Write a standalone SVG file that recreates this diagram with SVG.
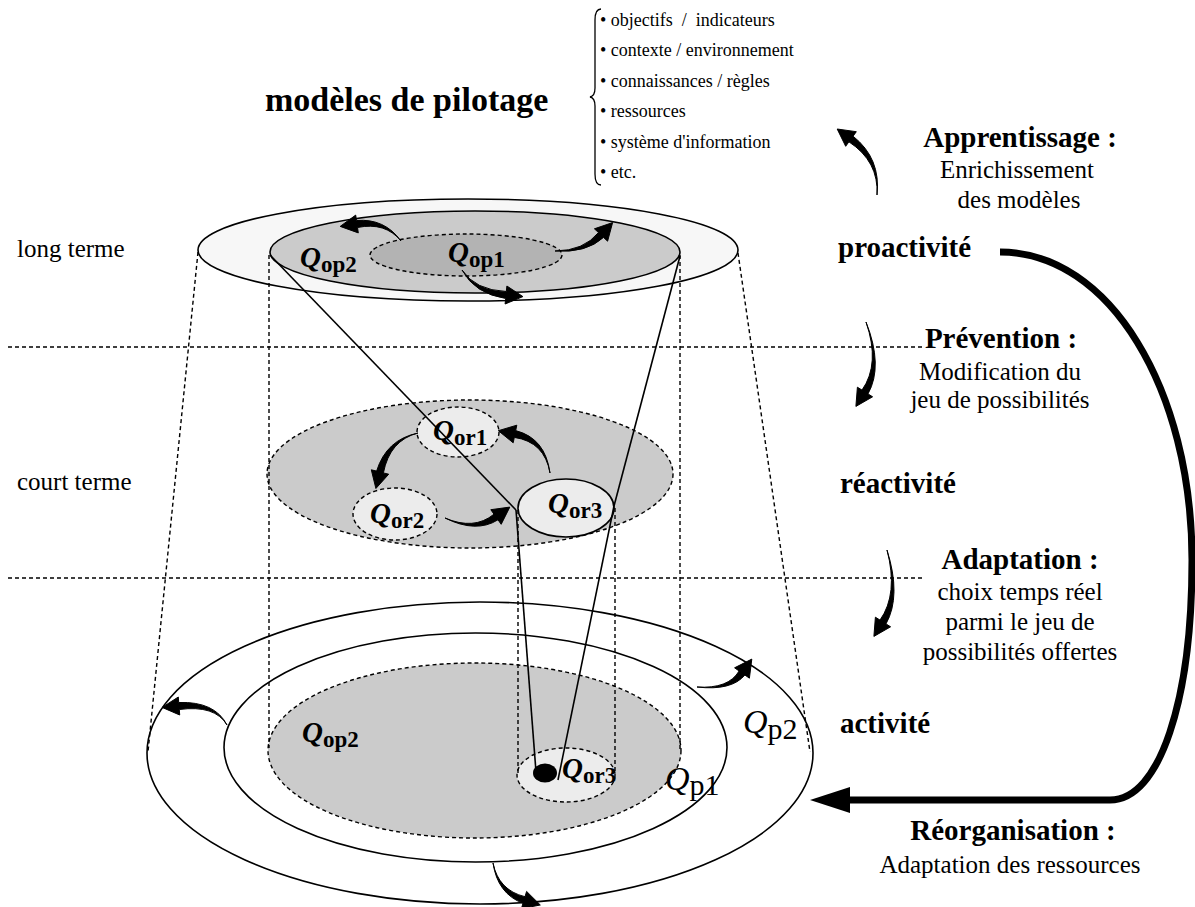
<svg xmlns="http://www.w3.org/2000/svg" width="1195" height="907" viewBox="0 0 1195 907">
  <style>
    text { font-family: "Liberation Serif", "Times New Roman", serif; fill: #000; }
    .t { font-size: 25px; }
    .b { font-size: 29px; font-weight: bold; }
    .title { font-size: 34px; font-weight: bold; }
    .li { font-size: 18px; white-space: pre; }
    .q { font-size: 29px; font-weight: bold; font-style: italic; }
    .qs { font-size: 23px; font-style: normal; }
    .qp { font-size: 34px; font-style: italic; }
    .qps { font-size: 30px; font-style: normal; }
    .solid { stroke: #000; stroke-width: 1.6; }
    .dash { fill: none; stroke: #000; stroke-width: 1.4; stroke-dasharray: 4 3; }
    .thin { fill: none; stroke: #000; stroke-width: 1.3; }
    .grey { fill: #cbcbcb; }
    .light { fill: #ececec; }
    .arrow { fill: #000; stroke: #000; stroke-width: 1; stroke-linejoin: round; }
  </style>
  <defs>
    <marker id="bighead" viewBox="0 0 40 26" refX="1" refY="13" markerWidth="40" markerHeight="26" markerUnits="userSpaceOnUse" orient="auto">
      <path d="M0,0 L40,13 L0,26 Z" fill="#000"/>
    </marker>
  </defs>

  <!-- level separators -->
  <g id="levels">
    <line class="dash" x1="8" y1="347" x2="922" y2="347"/>
    <line class="dash" x1="8" y1="578" x2="922" y2="578"/>
    <text class="t" x="17" y="257">long terme</text>
    <text class="t" x="17" y="490">court terme</text>
  </g>

  <!-- piloting models and their contents -->
  <g id="modeles">
    <text class="title" x="265" y="111">modèles de pilotage</text>
    <path class="thin" d="M601,9 Q595,9 595,20 L595,88 Q595,96 590,97 Q595,98 595,106 L595,174 Q595,185 601,185"/>
    <text class="li" x="600" y="26">• objectifs  /  indicateurs</text>
    <text class="li" x="600" y="56">• contexte / environnement</text>
    <text class="li" x="600" y="87">• connaissances / règles</text>
    <text class="li" x="600" y="117">• ressources</text>
    <text class="li" x="600" y="148">• système d'information</text>
    <text class="li" x="600" y="178">• etc.</text>
  </g>

  <!-- bottom level: activity -->
  <g id="activite-plan">
    <ellipse cx="480" cy="753" rx="333" ry="151" fill="#fff" class="solid"/>
    <ellipse cx="475.5" cy="747.5" rx="251.5" ry="114.5" fill="#fff" class="solid"/>
    <ellipse cx="474.5" cy="750.5" rx="206.5" ry="87.5" class="grey"/>
    <ellipse cx="474.5" cy="750.5" rx="206.5" ry="87.5" class="dash"/>
    <ellipse cx="566" cy="775" rx="49" ry="27" class="light"/>
    <ellipse cx="566" cy="775" rx="49" ry="27" class="dash"/>
    <ellipse cx="545" cy="773" rx="12" ry="9.5" fill="#000"/>
    <text class="q" x="302" y="742">Q<tspan class="qs" dy="5">op2</tspan></text>
    <text class="q" x="562" y="778">Q<tspan class="qs" dy="5">or3</tspan></text>
    <text class="qp" x="665" y="790">Q<tspan class="qps" dy="5">p1</tspan></text>
    <text class="qp" x="743" y="733">Q<tspan class="qps" dy="6">p2</tspan></text>
  </g>

  <!-- middle level: reactivity -->
  <g id="reactivite-plan">
    <ellipse cx="470" cy="474" rx="203" ry="74" class="grey"/>
    <ellipse cx="470" cy="474" rx="203" ry="74" class="dash"/>
    <ellipse cx="458" cy="432" rx="41" ry="25" class="light"/>
    <ellipse cx="458" cy="432" rx="41" ry="25" class="dash"/>
    <ellipse cx="395" cy="514" rx="42" ry="26" class="light"/>
    <ellipse cx="395" cy="514" rx="42" ry="26" class="dash"/>
    <ellipse cx="566" cy="508" rx="48" ry="29" class="light solid"/>
    <text class="q" x="433" y="440">Q<tspan class="qs" dy="5">or1</tspan></text>
    <text class="q" x="370" y="523">Q<tspan class="qs" dy="5">or2</tspan></text>
    <text class="q" x="548" y="513">Q<tspan class="qs" dy="5">or3</tspan></text>
  </g>

  <!-- top level: proactivity -->
  <g id="proactivite-plan">
    <ellipse cx="468" cy="250" rx="270" ry="51" fill="#f7f7f7" class="solid"/>
    <ellipse cx="475" cy="252" rx="205" ry="41" class="grey solid"/>
    <ellipse cx="466" cy="255" rx="96" ry="21" fill="#b3b3b3"/>
    <ellipse cx="466" cy="255" rx="96" ry="21" class="dash"/>
    <text class="q" x="300" y="267">Q<tspan class="qs" dy="5">op2</tspan></text>
    <text class="q" x="448" y="262">Q<tspan class="qs" dy="5">op1</tspan></text>
  </g>

  <!-- right-hand labels -->
  <g id="labels">
    <text class="b" x="1020" y="147" text-anchor="middle">Apprentissage :</text>
    <text class="t" x="1017" y="178" text-anchor="middle">Enrichissement</text>
    <text class="t" x="1019" y="208" text-anchor="middle">des modèles</text>
    <text class="b" x="838" y="257">proactivité</text>
    <text class="b" x="1001" y="348" text-anchor="middle">Prévention :</text>
    <text class="t" x="1000" y="380" text-anchor="middle">Modification du</text>
    <text class="t" x="1000" y="408" text-anchor="middle">jeu de possibilités</text>
    <text class="b" x="840" y="493">réactivité</text>
    <text class="b" x="1020" y="569" text-anchor="middle">Adaptation :</text>
    <text class="t" x="1020" y="600" text-anchor="middle">choix temps réel</text>
    <text class="t" x="1020" y="630" text-anchor="middle">parmi le jeu de</text>
    <text class="t" x="1020" y="660" text-anchor="middle">possibilités offertes</text>
    <text class="b" x="840" y="733">activité</text>
    <text class="b" x="1013" y="840" text-anchor="middle">Réorganisation :</text>
    <text class="t" x="1010" y="873" text-anchor="middle">Adaptation des ressources</text>
  </g>

  <!-- projections, links and transition arrows -->
  <g id="connectors">
    <line class="dash" x1="198" y1="252" x2="148" y2="752"/>
    <line class="dash" x1="738" y1="253" x2="810" y2="752"/>
    <line class="dash" x1="269" y1="255" x2="269" y2="748"/>
    <line class="dash" x1="680" y1="255" x2="680" y2="750"/>
    <line class="dash" x1="518" y1="510" x2="518" y2="775"/>
    <line class="dash" x1="615" y1="508" x2="615" y2="775"/>

    <line class="solid" x1="270" y1="255" x2="516" y2="510"/>
    <line class="solid" x1="516" y1="510" x2="536" y2="772"/>
    <line class="solid" x1="680" y1="256" x2="614" y2="506"/>
    <line class="solid" x1="614" y1="506" x2="558" y2="780"/>

    <!-- tapered curved arrows: body crescent + head -->
    <path class="arrow" d="M401,241 Q384.7,218.2 356.5,220.5 L355.7,215.1 L340.2,226.4 L358.3,232.9 L357.5,227.5 Q385.3,221.8 401,241 Z"/>
    <path class="arrow" d="M555,251 Q586.3,253.2 603.5,237.4 L607.6,241.2 L612.6,222.6 L594.4,228.8 L598.5,232.6 Q583.7,250.8 555,251 Z"/>
    <path class="arrow" d="M462,270 Q474.8,293.8 505.7,298.5 L505.1,304 L522.9,296.6 L506.9,286 L506.3,291.5 Q475.2,290.2 462,270 Z"/>
    <path class="arrow" d="M550,473 Q545.4,438.2 515.7,430.6 L516.8,425.2 L498.3,430.7 L513.2,442.8 L514.3,437.4 Q544.6,441.8 550,473 Z"/>
    <path class="arrow" d="M418,433 Q386.3,439.6 376.6,471.1 L371.3,469.8 L375.9,488.5 L388.7,474.2 L383.4,472.9 Q389.7,440.4 418,433 Z"/>
    <path class="arrow" d="M445,518 Q476,533.5 498,519.8 L501.2,524.3 L509.8,507.1 L490.8,509.7 L494,514.2 Q474,530.5 445,518 Z"/>
    <path class="arrow" d="M227,725 Q214.9,701.2 178.7,702.5 L178.3,697 L162.1,707.4 L179.7,715 L179.3,709.5 Q215.1,704.8 227,725 Z"/>
    <path class="arrow" d="M697,687 Q731.5,691 744.9,675 L749.4,678.2 L751.8,659.1 L734.6,667.8 L739.1,671 Q728.5,689 697,687 Z"/>
    <path class="arrow" d="M493,863 Q497.5,893.7 523,903.3 L521.4,908.6 L540.3,905 L526.6,891.4 L525,896.7 Q498.5,890.3 493,863 Z"/>
    <path class="arrow" d="M877,195 Q881.1,158.5 853.1,136.2 L856.3,131.7 L837.2,129 L845.7,146.3 L848.9,141.8 Q878.9,161.5 877,195 Z"/>
    <path class="arrow" d="M866,322 Q880.5,364 862,390.1 L857.4,387.2 L855.9,406.4 L872.6,396.8 L868,393.9 Q883.5,366 866,322 Z"/>
    <path class="arrow" d="M887,550 Q898.5,594 880,620.1 L875.4,617.2 L873.9,636.4 L890.6,626.8 L886,623.9 Q901.5,596 887,550 Z"/>

    <path d="M1000,252 C1110,252 1192,390 1192,560 C1192,700 1160,800 1110,800 L849,800" fill="none" stroke="#000" stroke-width="7" marker-end="url(#bighead)"/>
  </g>
</svg>
